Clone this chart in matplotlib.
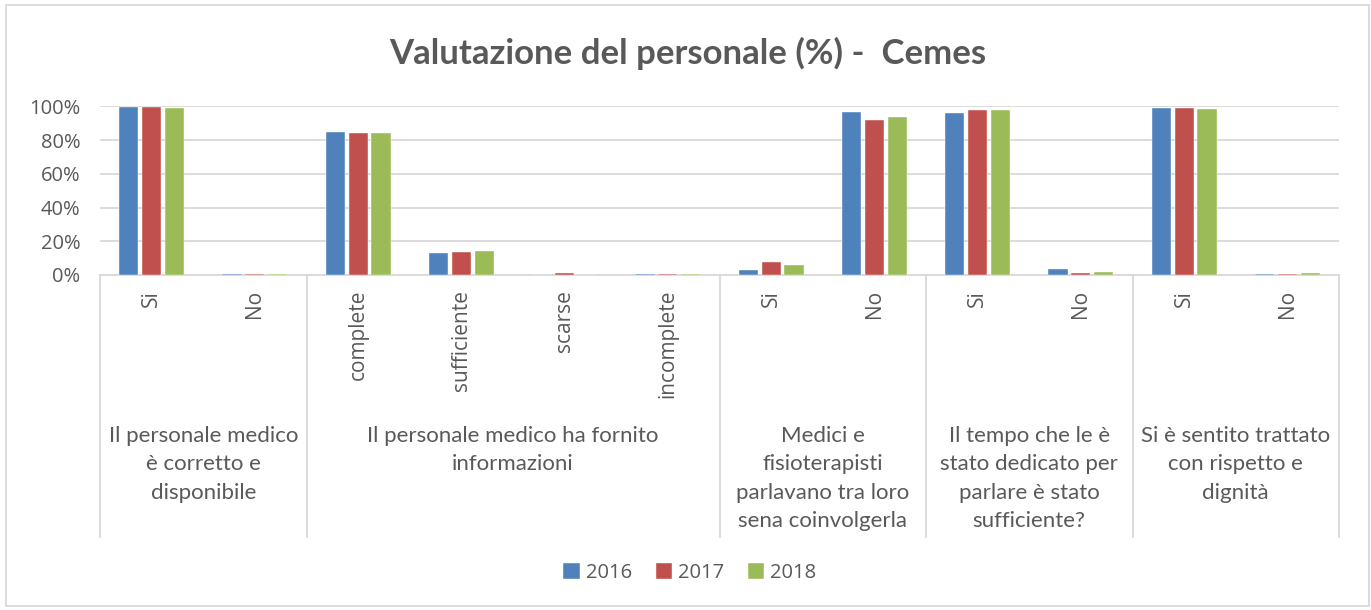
import numpy as np
import matplotlib
matplotlib.use("Agg")
import matplotlib.pyplot as plt
import matplotlib.transforms as mtransforms
from matplotlib.patches import Rectangle

# categories (inner level) and groups (outer level)
sub_labels = ["Si", "No", "complete", "sufficiente", "scarse", "incomplete",
              "Si", "No", "Si", "No", "Si", "No"]
groups = ["Il personale medico\nè corretto e\ndisponibile",
          "Il personale medico ha fornito\ninformazioni",
          "Medici e\nfisioterapisti\nparlavano tra loro\nsena coinvolgerla",
          "Il tempo che le è\nstato dedicato per\nparlare è stato\nsufficiente?",
          "Si è sentito trattato\ncon rispetto e\ndignità"]
group_sizes = [2, 4, 2, 2, 2]

years = ["2016", "2017", "2018"]
v2016 = [99.5, 0.3, 84.9, 13.0, 0.2, 0.8, 3.0, 96.7, 96.0, 3.6, 99.3, 0.5]
v2017 = [99.5, 0.3, 84.1, 13.5, 0.9, 0.8, 7.7, 92.0, 98.1, 1.4, 99.1, 0.7]
v2018 = [99.3, 0.3, 84.0, 14.2, 0.2, 0.3, 5.7, 93.8, 98.1, 1.6, 98.5, 1.0]
colors = ["#4F81BD", "#C0504D", "#9BBB59"]

txt = "#595959"
grid = "#D9D9D9"

W, H = 1371, 610
fig = plt.figure(figsize=(W / 100, H / 100), dpi=100)
ax = fig.add_axes([100 / W, 1 - 275 / H, (1339 - 100) / W, (275 - 106.5) / H])

x = np.arange(len(sub_labels))
pitch = 0.222
bw = 0.185
for k, (vals, c, lab) in enumerate(zip([v2016, v2017, v2018], colors, years)):
    ax.bar(x + (k - 1) * pitch, np.array(vals) / 100, width=bw, color=c,
           edgecolor="white", linewidth=0.3, label=lab, zorder=3)

ax.set_xlim(-0.5, len(sub_labels) - 0.5)
ax.set_ylim(0, 1.0)
ax.set_yticks(np.arange(0, 1.01, 0.2))
ax.set_yticklabels([f"{int(t * 100)}%" for t in np.arange(0, 1.01, 0.2)],
                   fontsize=14.5, color=txt, family="Open Sans")
ax.tick_params(axis="y", length=0, pad=14)
ax.tick_params(axis="x", length=0, labelbottom=False)
ax.yaxis.grid(True, color=grid, linewidth=1.3, zorder=0)
for s in ["top", "right", "left"]:
    ax.spines[s].set_visible(False)
ax.spines["bottom"].set_color(grid)
ax.spines["bottom"].set_linewidth(1.3)

# multi-level x axis
trans = mtransforms.blended_transform_factory(ax.transData, ax.transAxes)
axh = 275 - 106.5
for i, lab in enumerate(sub_labels):
    ax.text(i, -(290 - 275) / axh, lab, rotation=90, ha="center", va="top",
            transform=trans, fontsize=15, color=txt, family="Open Sans")

bounds = np.concatenate([[0], np.cumsum(group_sizes)]) - 0.5
y_end = -(537 - 275) / axh
for b in bounds:
    ax.plot([b, b], [0, y_end], transform=trans, color=grid, linewidth=1.3,
            clip_on=False)
for g, lab in enumerate(groups):
    cx = (bounds[g] + bounds[g + 1]) / 2
    ax.text(cx, -(426 - 275) / axh, lab, ha="center", va="top", transform=trans,
            fontsize=16, color=txt, family="Lato", linespacing=1.52)

fig.text(688 / W, 1 - 53 / H, "Valutazione del personale (%) -  Cemes",
         ha="center", va="center", fontsize=25, fontweight="bold",
         color=txt, family="Lato")

fig.legend(loc="center", bbox_to_anchor=(690 / W, 1 - 573 / H), ncol=3,
           frameon=False, handlelength=0.8, handleheight=0.8,
           handletextpad=0.3, columnspacing=1.2,
           prop={"family": "Open Sans", "size": 14.5}, labelcolor=txt)

fig.patches.append(Rectangle((6 / W, 4 / H), (1369 - 6) / W, (605 - 4) / H,
                             transform=fig.transFigure, fill=False,
                             edgecolor=grid, linewidth=1.3))

fig.savefig("out.png", dpi=100, facecolor="white")
